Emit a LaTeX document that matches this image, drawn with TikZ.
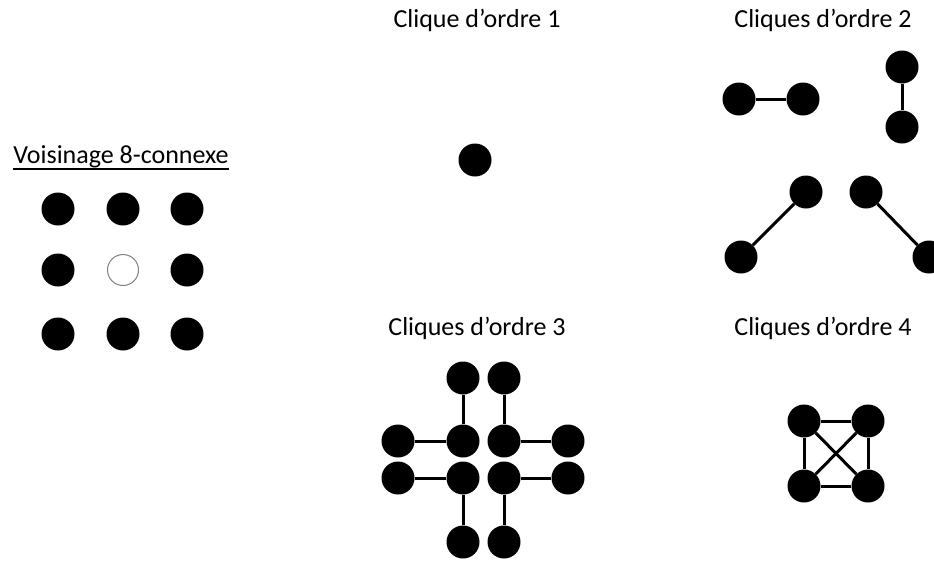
\documentclass[tikz,border=0pt]{standalone}
\usepackage{fontspec}
\setmainfont{Carlito}
\begin{document}
\begin{tikzpicture}[x=1pt,y=-1pt,
  dot/.style={circle,fill=black,inner sep=0pt,minimum size=33pt},
  hole/.style={circle,draw=gray,line width=1pt,fill=white,inner sep=0pt,minimum size=31pt},
  lien/.style={line width=3pt},
  titre/.style={anchor=base,inner xsep=0pt,font=\fontsize{26}{30}\selectfont}]
\useasboundingbox (0,0) rectangle (934,560);
\node[titre] (t0) at (121,163) {Voisinage 8-connexe};
\draw[line width=1.8pt] ([yshift=-6pt]t0.base west) -- ([yshift=-6pt]t0.base east);
\foreach \i/\x in {1/58,2/123,3/187}
  \foreach \j/\y in {1/209,2/270,3/334}
    {\ifnum\i\j=22 \node[hole] (v\i\j) at (\x,\y) {};
     \else \node[dot] (v\i\j) at (\x,\y) {};\fi}
\node[titre] (t1) at (477,27) {Clique d’ordre 1};
\node[dot] (c) at (475,160) {};
\node[titre] (t2) at (823,27) {Cliques d’ordre 2};
\node[dot] (a1) at (739,99) {};
\node[dot] (a2) at (803,99) {};
\node[dot] (b1) at (902,67) {};
\node[dot] (b2) at (902,127) {};
\node[dot] (d1) at (806,192) {};
\node[dot] (d2) at (741,257) {};
\node[dot] (e1) at (866,192) {};
\node[dot] (e2) at (929,257) {};
\draw[lien] (a1) -- (a2);
\draw[lien] (b1) -- (b2);
\draw[lien] (d1) -- (d2);
\draw[lien] (e1) -- (e2);
\node[titre] (t3) at (477,335) {Cliques d’ordre 3};
\node[dot] (h1) at (463,378) {};
\node[dot] (h2) at (504,378) {};
\node[dot] (g1) at (398,441) {};
\node[dot] (m1) at (463,441) {};
\node[dot] (m2) at (504,441) {};
\node[dot] (r1) at (568,441) {};
\node[dot] (g2) at (398,478) {};
\node[dot] (m3) at (463,478) {};
\node[dot] (m4) at (504,478) {};
\node[dot] (r2) at (568,478) {};
\node[dot] (s1) at (463,542) {};
\node[dot] (s2) at (504,542) {};
\draw[lien] (h1) -- (m1) -- (g1);
\draw[lien] (h2) -- (m2) -- (r1);
\draw[lien] (g2) -- (m3) -- (s1);
\draw[lien] (r2) -- (m4) -- (s2);
\node[titre] (t4) at (823,335) {Cliques d’ordre 4};
\node[dot] (k1) at (804,421) {};
\node[dot] (k2) at (868,421) {};
\node[dot] (k3) at (804,486) {};
\node[dot] (k4) at (868,486) {};
\draw[lien] (k1) -- (k2) -- (k4) -- (k3) -- (k1);
\draw[lien] (k1) -- (k4);
\draw[lien] (k2) -- (k3);
\end{tikzpicture}
\end{document}
